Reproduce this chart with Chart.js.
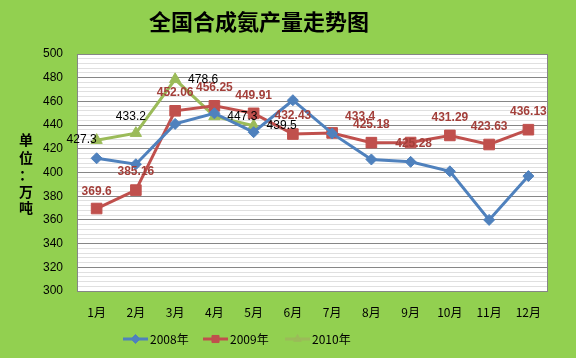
<!DOCTYPE html>
<html>
<head>
<meta charset="utf-8">
<script src="https://cdn.jsdelivr.net/npm/chart.js@4.4.0/dist/chart.umd.min.js"></script>
<style>
  html, body { margin: 0; padding: 0; background: #92d050; }
  #wrap { position: relative; width: 576px; height: 358px; }
</style>
</head>
<body>
<div id="wrap"><canvas id="chart" width="576" height="358"></canvas></div>
<script>
'use strict';

// data
const months = ['1月', '2月', '3月', '4月', '5月', '6月', '7月', '8月', '9月', '10月', '11月', '12月'];
const seriesNames = ['2008年', '2009年', '2010年'];
const values2008 = [412, 407, 441, 450, 434, 461, 433, 411, 409, 401, 360, 397];
const values2009 = [369.6, 385.16, 452.06, 456.25, 449.91, 432.43, 433.4, 425.18, 425.28, 431.29, 423.63, 436.13];
const values2010 = [427.3, 433.2, 478.6, 447.3, 439.5];
const yTicks = [300, 320, 340, 360, 380, 400, 420, 440, 460, 480, 500];

const TITLE = '全国合成氨产量走势图';
const Y_TITLE = ['单', '位', '：', '万', '吨'];

// label offsets (px) from each point, per series
const labelOffsets = {
  1: [[0,-17],[0,-18],[0,-18],[0,-18],[0,-18],[0,-18],[28,-16],[0,-18],[3,1],[0,-18],[0,-18],[0,-18]],
  2: [[-15,0],[-5,-16],[28,0],[28,0],[28,0]]
};
const labelColors = { 1: '#a33f3a', 2: '#000000' };

const colors = ['#4f81bd', '#c0504d', '#9bbb59'];
const markers = ['rectRot', 'rect', 'triangle'];

const $ = id => document.getElementById(id);

const decorPlugin = {
  id: 'decor',
  beforeDraw(chart) {
    const { ctx, chartArea: a } = chart;
    ctx.save();
    ctx.fillStyle = '#ffffff';
    ctx.fillRect(a.left, a.top, a.right - a.left, a.bottom - a.top);
    ctx.restore();
  },
  afterDraw(chart) {
    const { ctx, chartArea: a } = chart;
    ctx.save();
    // plot border
    ctx.strokeStyle = '#868686';
    ctx.lineWidth = 1;
    ctx.strokeRect(a.left + 0.5, a.top + 0.5, a.right - a.left - 1, a.bottom - a.top);

    // title
    ctx.fillStyle = '#000';
    ctx.font = 'bold 22px "Noto Sans CJK SC"';
    ctx.textAlign = 'center';
    ctx.textBaseline = 'middle';
    ctx.fillText(TITLE, 259, 22);

    // y axis title, stacked
    ctx.font = 'bold 14px "Noto Sans CJK SC"';
    const ys = [140, 158, 175, 192, 208];
    Y_TITLE.forEach((c, i) => ctx.fillText(c, 26, ys[i]));

    // data labels
    Object.keys(labelOffsets).forEach(di => {
      const meta = chart.getDatasetMeta(+di);
      const data = chart.data.datasets[di].data;
      ctx.fillStyle = labelColors[di];
      ctx.font = (di === '1' ? '600 ' : '') + '12px "Liberation Sans"';
      meta.data.forEach((pt, i) => {
        const off = labelOffsets[di][i];
        if (!off) return;
        ctx.fillText(String(data[i]), pt.x + off[0], pt.y + off[1]);
      });
    });

    // legend
    const legendX = [123, 203, 285];
    const ly = 339;
    ctx.font = '12px "Noto Sans CJK SC"';
    ctx.textAlign = 'left';
    seriesNames.forEach((name, i) => {
      const x0 = legendX[i];
      ctx.strokeStyle = colors[i];
      ctx.fillStyle = colors[i];
      ctx.lineWidth = 3;
      ctx.beginPath();
      ctx.moveTo(x0, ly);
      ctx.lineTo(x0 + 25, ly);
      ctx.stroke();
      ctx.lineWidth = 1;
      Chart.helpers.drawPoint(ctx, {
        pointStyle: markers[i], radius: i === 1 ? 5 : 4.5, borderWidth: 1
      }, x0 + 12.5, ly);
      ctx.fillStyle = '#000';
      ctx.fillText(name, x0 + 27, ly);
    });
    ctx.restore();
  }
};

function makeDataset(label, data, i) {
  return {
    label,
    data,
    borderColor: colors[i],
    backgroundColor: colors[i],
    borderWidth: 3,
    pointStyle: markers[i],
    pointRadius: i === 1 ? 7.5 : (i === 0 ? 5.5 : 6.5),
    pointBackgroundColor: colors[i],
    pointBorderColor: colors[i],
    pointBorderWidth: 1,
    tension: 0
  };
}

const chart = new Chart($('chart').getContext('2d'), {
  type: 'line',
  data: {
    labels: months,
    datasets: [
      makeDataset(seriesNames[0], values2008, 0),
      makeDataset(seriesNames[1], values2009, 1),
      makeDataset(seriesNames[2], values2010, 2)
    ]
  },
  options: {
    responsive: false,
    animation: false,
    events: [],
    layout: { padding: { left: 0, right: 28, top: 54, bottom: 0 } },
    plugins: {
      legend: { display: false },
      title: { display: false },
      tooltip: { enabled: false }
    },
    scales: {
      x: {
        offset: true,
        grid: { display: false, drawTicks: false },
        border: { display: false },
        ticks: {
          color: '#000',
          padding: 14,
          maxRotation: 0,
          autoSkip: false,
          font: { family: '"Noto Sans CJK SC"', size: 12 }
        },
        afterFit: s => { s.height = 67; }
      },
      y: {
        min: yTicks[0],
        max: yTicks[yTicks.length - 1],
        grid: {
          drawTicks: false,
          color: c => (c.tick.value % 20 === 0 ? '#868686' : '#e0e0e0'),
          lineWidth: 1
        },
        border: { display: false },
        ticks: {
          stepSize: 4,
          maxTicksLimit: 100,
          autoSkip: false,
          padding: 14,
          color: '#000',
          font: { family: '"Liberation Sans"', size: 12 },
          callback: v => (yTicks.includes(v) ? v : '')
        },
        afterFit: s => { s.width = 77; }
      }
    }
  },
  plugins: [decorPlugin]
});
</script>
</body>
</html>
